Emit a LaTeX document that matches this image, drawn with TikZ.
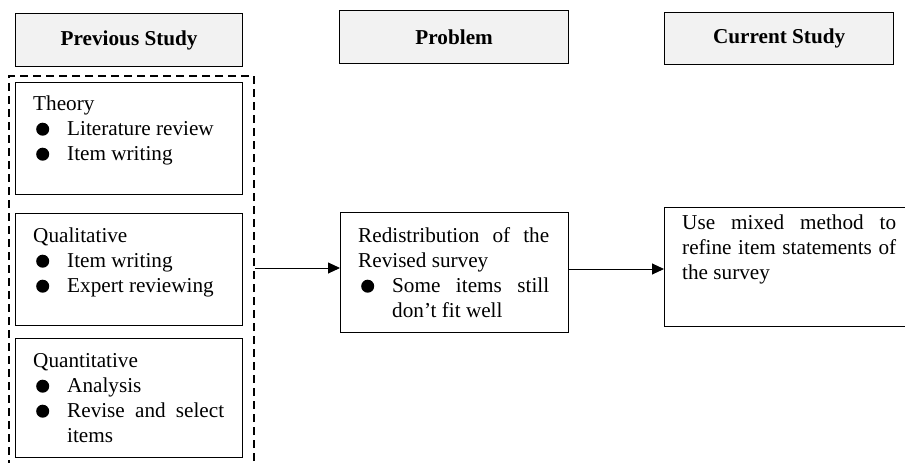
\documentclass[tikz,border=0pt]{standalone}
\usepackage{fontspec}
\setmainfont{Liberation Serif}
\usetikzlibrary{arrows.meta}
\newcommand\bulmark{\makebox[34pt][l]{\hspace{3pt}\tikz[baseline=-5.8pt]\fill (0,0) circle (6.5pt);}}
\newcommand\bitem[1]{\par\noindent\hangindent=34pt\hangafter=1\bulmark #1\par}
\newcommand\nohyph{\hyphenpenalty=10000\relax\exhyphenpenalty=10000\relax}
\tikzset{
  hdr/.style={draw, line width=1.3pt, fill=black!5, inner sep=0pt, anchor=north west, font=\fontsize{21.2pt}{25pt}\selectfont\bfseries},
  boxx/.style={draw, line width=1.3pt, inner sep=0pt, anchor=north west},
  txt/.style={inner sep=0pt, anchor=base west, align=justify, font=\fontsize{21.2pt}{25pt}\selectfont\nohyph},
  arr/.style={line width=0.9pt, -{Triangle[length=12pt,width=11pt]}},
}
\begin{document}
\begin{tikzpicture}[x=1pt,y=-1pt]
\useasboundingbox (0,0) rectangle (905,463);
\clip (0,0) rectangle (905,463);
% headers
\node[hdr, minimum width=227pt, minimum height=53pt] (prev) at (15,13) {Previous Study};
\node[hdr, minimum width=229pt, minimum height=53pt] (prob) at (339,10) {Problem};
\node[hdr, minimum width=229pt, minimum height=52pt] (curr) at (664,12) {Current Study};
% dashed group
\node[draw, line width=2pt, dash pattern=on 8pt off 5pt, inner sep=0pt, anchor=north west, minimum width=245pt, minimum height=400pt] (grp) at (8,75) {};
% left boxes
\node[boxx, minimum width=227pt, minimum height=112pt] (theory) at (15,82) {};
\node[boxx, minimum width=227pt, minimum height=112pt] (qual) at (15,213) {};
\node[boxx, minimum width=227pt, minimum height=119pt] (quant) at (15,338) {};
\node[txt, text width=191pt] (ttheory) at (33,110) {Theory\bitem{Literature review}\bitem{Item writing}};
\node[txt, text width=191pt] (tqual) at (33,242) {Qualitative\bitem{Item writing}\bitem{Expert reviewing}};
\node[txt, text width=191pt] (tquant) at (33,367) {Quantitative\bitem{Analysis}\bitem{Revise and select items}};
% middle
\node[boxx, minimum width=228pt, minimum height=120pt] (redist) at (340,212) {};
\node[txt, text width=191pt] (tredist) at (358,242) {Redistribution of the Revised survey\bitem{Some items still don’t fit well}};
% right
\node[boxx, minimum width=260pt, minimum height=119pt] (cur) at (664,207) {};
\node[txt, text width=214pt] (tcur) at (682,229) {Use mixed method to refine item statements of the survey};
% arrows
\coordinate (a1) at (grp.east |- 0,268);
\draw[arr] (a1) -- (redist.west |- a1);
\coordinate (a2) at (redist.east |- 0,269);
\draw[arr] (a2) -- (cur.west |- a2);
\end{tikzpicture}
\end{document}
